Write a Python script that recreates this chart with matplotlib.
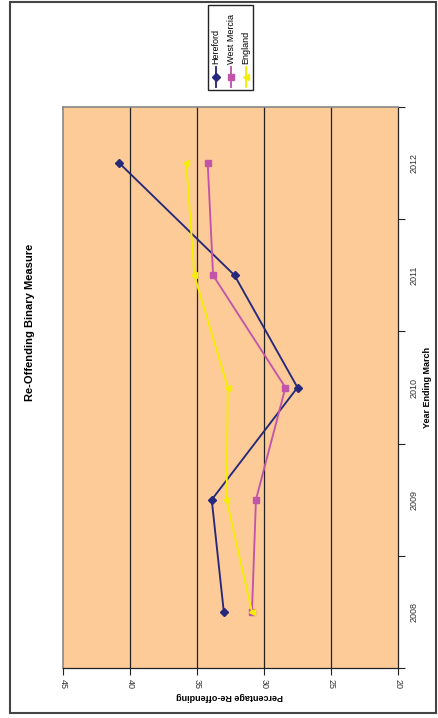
import matplotlib
matplotlib.use("Agg")
import matplotlib.pyplot as plt
from matplotlib.lines import Line2D
from matplotlib.patches import Rectangle

plt.rcParams['font.family'] = ['Liberation Sans', 'DejaVu Sans']

years = ['2008', '2009', '2010', '2011', '2012']
hereford = [33.0, 33.9, 27.5, 32.2, 40.8]
west_mercia = [30.9, 30.6, 28.4, 33.8, 34.2]
england = [30.9, 32.8, 32.7, 35.2, 35.8]
series_names = ['Hereford', 'West Mercia', 'England']
pct_ticks = [45, 40, 35, 30, 25, 20]

styles = [
    dict(color='#26287a', marker='D', markersize=3.8),
    dict(color='#c255aa', marker='s', markersize=5),
    dict(color='#f4ee00', marker='<', markersize=5),
]

W, H = 438, 718
fig = plt.figure(figsize=(W / 100, H / 100), dpi=100)

def fx(px):
    return px / W

def fy(py):
    return 1 - py / H

# chart is laid out sideways: value axis along the bottom, years up the right side
ax = fig.add_axes([fx(63), fy(668), fx(398) - fx(63), fy(107) - fy(668)])
ax.set_facecolor('#fccb98')
pos = list(range(len(years)))
for vals, st in zip([hereford, west_mercia, england], styles):
    ax.plot(vals, pos, linewidth=1.35, zorder=3, **st)

ax.set_xlim(45, 20)
ax.set_xticks(pct_ticks)
ax.set_xticklabels([str(t) for t in pct_ticks], rotation=270, fontsize=6.5, color='#333333')
for t in pct_ticks[1:-1]:
    ax.axvline(t, color='#222222', linewidth=0.9, zorder=1)

ax.set_ylim(-0.5, len(years) - 0.5)
ax.yaxis.tick_right()
ax.set_yticks([p - 0.5 for p in range(len(years) + 1)])
ax.set_yticklabels([])
ax.set_yticks(pos, minor=True)
ax.set_yticklabels(years, minor=True, rotation=90, fontsize=6.5, va='center', color='#333333')
ax.tick_params(axis='y', which='minor', length=0, pad=8)
ax.tick_params(axis='y', which='major', length=5, width=0.8, color='#222222')
ax.tick_params(axis='x', length=5, width=0.8, color='#222222', pad=3)

for side in ['top', 'left']:
    ax.spines[side].set_color('#888888')
    ax.spines[side].set_linewidth(1.2)
for side in ['bottom', 'right']:
    ax.spines[side].set_color('#222222')
    ax.spines[side].set_linewidth(0.9)

fig.text(fx(30), fy(322), 'Re-Offending Binary Measure', rotation=90,
         fontsize=8, fontweight='bold', ha='center', va='center')
fig.text(fx(428), fy(387), 'Year Ending March', rotation=90,
         fontsize=6.5, fontweight='bold', ha='center', va='center')
fig.text(fx(230), fy(696), 'Percentage Re-offending', rotation=180,
         fontsize=6.5, fontweight='bold', ha='center', va='center')

# legend box drawn by hand so entries can be rotated
fig.patches.append(Rectangle((fx(208), fy(90)), fx(253) - fx(208), fy(5) - fy(90),
                             transform=fig.transFigure, fill=False,
                             edgecolor='#222222', linewidth=1.0))
for name, st, x in zip(series_names, styles, [216, 231, 246]):
    fig.lines.append(Line2D([fx(x), fx(x)], [fy(87), fy(67)], transform=fig.transFigure,
                            linewidth=1.35, color=st['color']))
    fig.lines.append(Line2D([fx(x)], [fy(77)], transform=fig.transFigure, linestyle='none',
                            color=st['color'], marker=st['marker'], markersize=st['markersize']))
    fig.text(fx(x), fy(64), name, rotation=90, fontsize=6.5, ha='center', va='bottom')

# outer chart border
fig.patches.append(Rectangle((fx(10), fy(713)), fx(436) - fx(10), fy(2) - fy(713),
                             transform=fig.transFigure, fill=False,
                             edgecolor='#444444', linewidth=1.5))

fig.savefig('out.png', dpi=100)
